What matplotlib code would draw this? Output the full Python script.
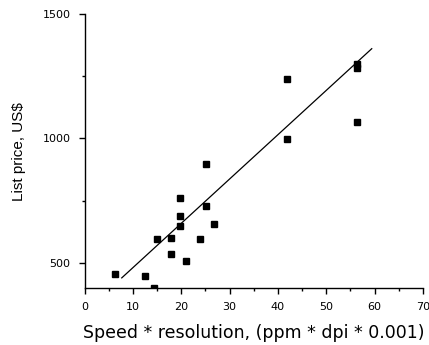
import matplotlib
matplotlib.use("Agg")
import matplotlib.pyplot as plt
from matplotlib.ticker import MultipleLocator

# speed * resolution (ppm * dpi * 0.001) vs list price (US$)
speed_res = [6.3, 12.5, 14.4, 14.9, 17.95, 17.95, 19.75, 19.75, 19.75, 20.9,
             23.95, 25.2, 26.8, 25.2, 41.9, 41.9, 56.3, 56.3, 56.3]
price = [454, 447, 397, 595, 600, 537, 760, 686, 649, 508,
         597, 727, 654, 896, 1240, 997, 1299, 1284, 1068]

# regression line end points
fit_x = [7.7, 59.4]
fit_y = [439, 1361]

plt.rcParams['font.family'] = ['Liberation Sans', 'DejaVu Sans']

fig = plt.figure(figsize=(4.29, 3.45), dpi=100)
ax = fig.add_axes([0.197, 0.165, 0.789, 0.794])

ax.plot(speed_res, price, 's', color='black', markersize=4.8, clip_on=True)
ax.plot(fit_x, fit_y, '-', color='black', linewidth=0.9)

ax.set_xlim(0, 70)
ax.set_ylim(398, 1500)
ax.xaxis.set_major_locator(MultipleLocator(10))
ax.xaxis.set_minor_locator(MultipleLocator(5))
ax.yaxis.set_major_locator(MultipleLocator(500))
ax.yaxis.set_minor_locator(MultipleLocator(250))

for s in ['top', 'right']:
    ax.spines[s].set_visible(False)
for s in ['left', 'bottom']:
    ax.spines[s].set_linewidth(1.0)

ax.tick_params(which='major', direction='out', length=4, width=1, labelsize=8, pad=6)
ax.tick_params(which='minor', direction='out', length=2.5, width=1)
for lab in ax.get_xticklabels() + ax.get_yticklabels():
    lab.set_family('DejaVu Sans')

ax.set_xlabel('Speed * resolution, (ppm * dpi * 0.001)', fontsize=12.5,
              family='DejaVu Sans', labelpad=9)
ax.set_ylabel('List price, US$', fontsize=11, labelpad=12)

fig.savefig('out.png', dpi=100)
